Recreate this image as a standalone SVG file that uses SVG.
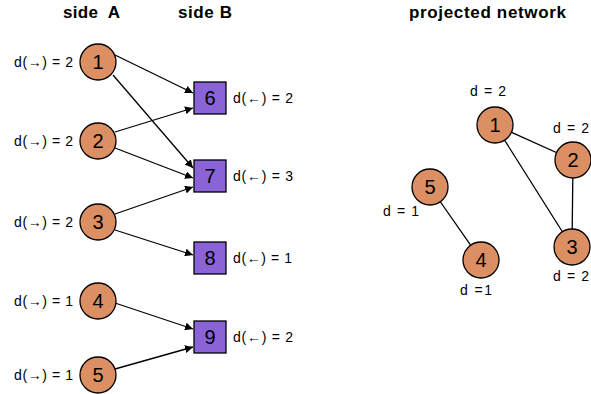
<svg xmlns="http://www.w3.org/2000/svg" width="591" height="394" viewBox="0 0 591 394">
<defs>
<marker id="ah" viewBox="0 0 10 10" refX="10" refY="5" markerWidth="8" markerHeight="8" markerUnits="userSpaceOnUse" orient="auto">
<path d="M0,0 L10,5 L0,10 z" fill="#000"/>
</marker>
<style>
.c{fill:#DB8F63;stroke:#000;stroke-width:1.3}
.s{fill:#8A64D6;stroke:#000;stroke-width:1.3}
.n{font-family:"Liberation Sans",Arial,sans-serif;font-size:20px;text-anchor:middle;fill:#000}
.l{font-family:"Liberation Sans",Arial,sans-serif;font-size:14px;fill:#000}
.t{font-family:"Liberation Sans",Arial,sans-serif;font-size:17px;font-weight:bold;fill:#000}
.e{stroke:#000;stroke-width:1.3;fill:none}
</style>
</defs>
<rect width="591" height="394" fill="#fff"/>
<text class="t" x="63" y="18" xml:space="preserve" textLength="57" lengthAdjust="spacing">side  A</text>
<text class="t" x="178" y="18" textLength="54" lengthAdjust="spacing">side B</text>
<text class="t" x="409" y="18" textLength="157" lengthAdjust="spacing">projected network</text>
<g id="connectors">
<line class="e" x1="115" y1="55" x2="193" y2="93" marker-end="url(#ah)"/>
<line class="e" x1="113" y1="75" x2="193" y2="168" marker-end="url(#ah)"/>
<line class="e" x1="115" y1="132" x2="193" y2="108" marker-end="url(#ah)"/>
<line class="e" x1="115" y1="148" x2="193" y2="178" marker-end="url(#ah)"/>
<line class="e" x1="115" y1="214" x2="193" y2="187" marker-end="url(#ah)"/>
<line class="e" x1="115" y1="230" x2="193" y2="255" marker-end="url(#ah)"/>
<line class="e" x1="115" y1="303" x2="193" y2="329" marker-end="url(#ah)"/>
<line class="e" x1="115" y1="369" x2="193" y2="347" marker-end="url(#ah)"/>
<line class="e" x1="495" y1="125" x2="573" y2="160"/>
<line class="e" x1="495" y1="125" x2="572" y2="247"/>
<line class="e" x1="573" y1="160" x2="572" y2="247"/>
<line class="e" x1="430" y1="187" x2="481" y2="260"/>
</g>
<g id="a1"><circle class="c" cx="98" cy="62" r="18"/><text class="n" x="98" y="69">1</text><text class="l" x="14" y="67" textLength="59" lengthAdjust="spacing">d(→) = 2</text></g>
<g id="a2"><circle class="c" cx="98" cy="141" r="18"/><text class="n" x="98" y="148">2</text><text class="l" x="14" y="146" textLength="59" lengthAdjust="spacing">d(→) = 2</text></g>
<g id="a3"><circle class="c" cx="98" cy="222" r="18"/><text class="n" x="98" y="229">3</text><text class="l" x="14" y="227" textLength="59" lengthAdjust="spacing">d(→) = 2</text></g>
<g id="a4"><circle class="c" cx="98" cy="301" r="18"/><text class="n" x="98" y="308">4</text><text class="l" x="14" y="306" textLength="59" lengthAdjust="spacing">d(→) = 1</text></g>
<g id="a5"><circle class="c" cx="98" cy="375" r="18"/><text class="n" x="98" y="382">5</text><text class="l" x="14" y="380" textLength="59" lengthAdjust="spacing">d(→) = 1</text></g>
<g id="b6"><rect class="s" x="194" y="82" width="32" height="32"/><text class="n" x="210" y="105">6</text><text class="l" x="233" y="103" textLength="60" lengthAdjust="spacing">d(←) = 2</text></g>
<g id="b7"><rect class="s" x="194" y="160" width="32" height="32"/><text class="n" x="210" y="183">7</text><text class="l" x="233" y="181" textLength="60" lengthAdjust="spacing">d(←) = 3</text></g>
<g id="b8"><rect class="s" x="194" y="242" width="32" height="32"/><text class="n" x="210" y="265">8</text><text class="l" x="233" y="263" textLength="59" lengthAdjust="spacing">d(←) = 1</text></g>
<g id="b9"><rect class="s" x="194" y="321" width="32" height="32"/><text class="n" x="210" y="344">9</text><text class="l" x="233" y="342" textLength="60" lengthAdjust="spacing">d(←) = 2</text></g>
<g id="p1"><circle class="c" cx="495" cy="125" r="18"/><text class="n" x="495" y="132">1</text><text class="l" x="470" y="96" textLength="36" lengthAdjust="spacing">d = 2</text></g>
<g id="p2"><circle class="c" cx="573" cy="160" r="18"/><text class="n" x="573" y="167">2</text><text class="l" x="553" y="133" textLength="36" lengthAdjust="spacing">d = 2</text></g>
<g id="p3"><circle class="c" cx="572" cy="247" r="18"/><text class="n" x="572" y="254">3</text><text class="l" x="553" y="281" textLength="36" lengthAdjust="spacing">d = 2</text></g>
<g id="p4"><circle class="c" cx="481" cy="260" r="18"/><text class="n" x="481" y="267">4</text><text class="l" x="460" y="295" textLength="32" lengthAdjust="spacing">d =1</text></g>
<g id="p5"><circle class="c" cx="430" cy="187" r="18"/><text class="n" x="430" y="194">5</text><text class="l" x="383" y="216" textLength="36" lengthAdjust="spacing">d = 1</text></g>
</svg>
